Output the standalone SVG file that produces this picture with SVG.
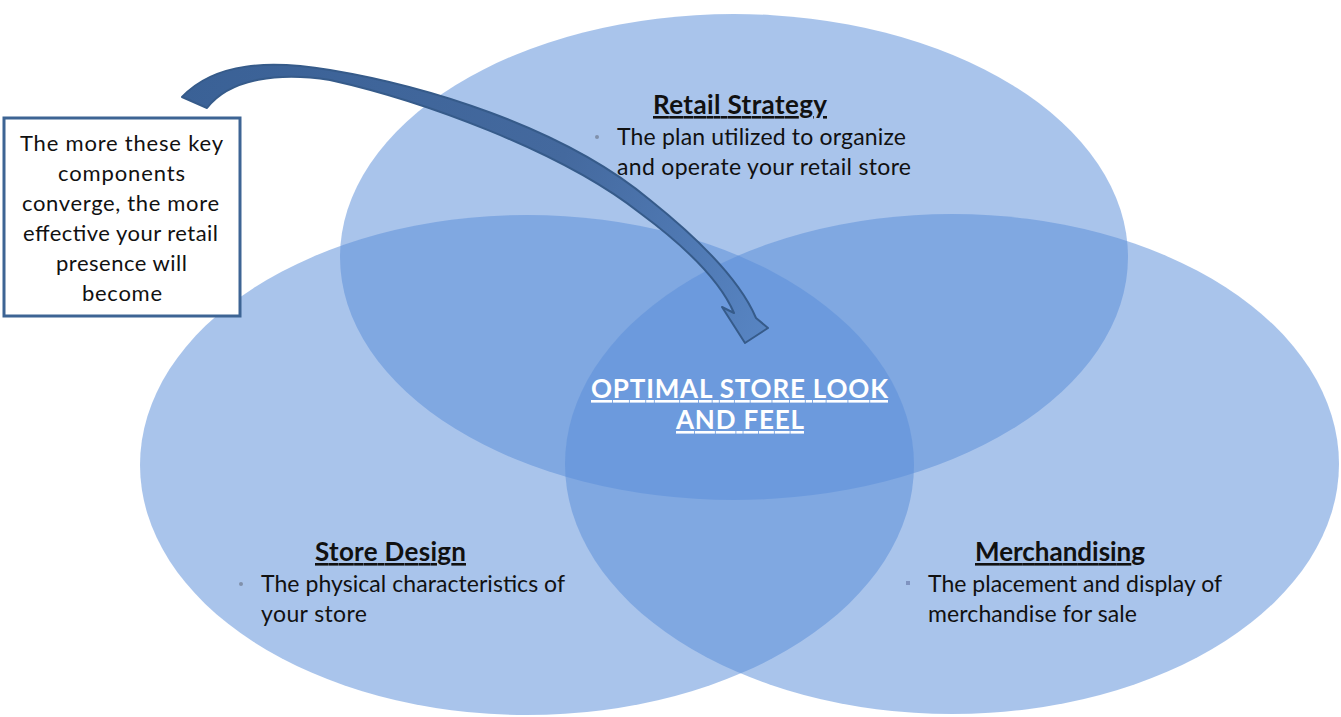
<svg xmlns="http://www.w3.org/2000/svg" width="1341" height="717" viewBox="0 0 1341 717">
<style>
.circ{fill:#5b8ed9;fill-opacity:0.52}
.t{font-family:"Lato","Liberation Sans",sans-serif;font-size:23px;fill:#111}
.h{font-family:"Lato","Liberation Sans",sans-serif;font-size:26px;font-weight:bold;fill:#111;text-decoration:underline}
.c{font-family:"Lato","Liberation Sans",sans-serif;font-size:26px;font-weight:bold;fill:#fff;text-decoration:underline}
.bx{font-family:"Lato","Liberation Sans",sans-serif;font-size:22px;fill:#111}
.dot{fill:#8090ab}
</style>
<defs>
<linearGradient id="ag" x1="180" y1="80" x2="760" y2="340" gradientUnits="userSpaceOnUse">
<stop offset="0" stop-color="#3a6196"/>
<stop offset="0.6" stop-color="#44699e"/>
<stop offset="1" stop-color="#5784c2"/>
</linearGradient>
</defs>
<rect width="1341" height="717" fill="#fff"/>
<g id="retail-strategy">
<ellipse class="circ" cx="734" cy="257" rx="394" ry="243"/>
<text class="h" x="653" y="114" textLength="174">Retail Strategy</text>
<circle class="dot" cx="597" cy="137" r="2"/>
<text class="t" x="617" y="145" textLength="289">The plan utilized to organize</text>
<text class="t" x="617" y="175" textLength="294">and operate your retail store</text>
</g>
<g id="store-design">
<ellipse class="circ" cx="527" cy="465" rx="387" ry="250"/>
<text class="h" x="315" y="561" textLength="151">Store Design</text>
<circle class="dot" cx="241" cy="584" r="2"/>
<text class="t" x="261" y="592" textLength="304">The physical characteristics of</text>
<text class="t" x="261" y="622" textLength="106">your store</text>
</g>
<g id="merchandising">
<ellipse class="circ" cx="952" cy="464" rx="387" ry="250"/>
<text class="h" x="975" y="561" textLength="170">Merchandising</text>
<rect x="906" y="581" width="4" height="4" fill="#7f93c0"/>
<text class="t" x="928" y="592" textLength="294">The placement and display of</text>
<text class="t" x="928" y="622" textLength="209">merchandise for sale</text>
</g>
<g id="center">
<text class="c" x="591" y="398" textLength="297">OPTIMAL STORE LOOK</text>
<text class="c" x="676" y="429" textLength="128">AND FEEL</text>
</g>
<g id="note">
<rect x="4" y="118" width="236" height="198" fill="#fff" stroke="#3d6494" stroke-width="3"/>
<text class="bx" x="20" y="151" textLength="203">The more these key</text>
<text class="bx" x="58" y="181" textLength="127">components</text>
<text class="bx" x="22" y="211" textLength="197">converge, the more</text>
<text class="bx" x="23" y="241" textLength="195">effective your retail</text>
<text class="bx" x="56" y="271" textLength="131">presence will</text>
<text class="bx" x="82" y="301" textLength="80">become</text>
</g>
<g id="connectors">
<path d="M182,97 C215,62 270,60 330,70 C420,85 560,125 650,200 C700,240 740,280 756,318 L768,328 L745,343 L722,307 L734,313 C722,285 690,250 640,213 C560,150 420,100 330,80 C280,72 230,78 207,108 Z" fill="url(#ag)" stroke="#365b8a" stroke-width="2" stroke-linejoin="round"/>
</g>
</svg>
